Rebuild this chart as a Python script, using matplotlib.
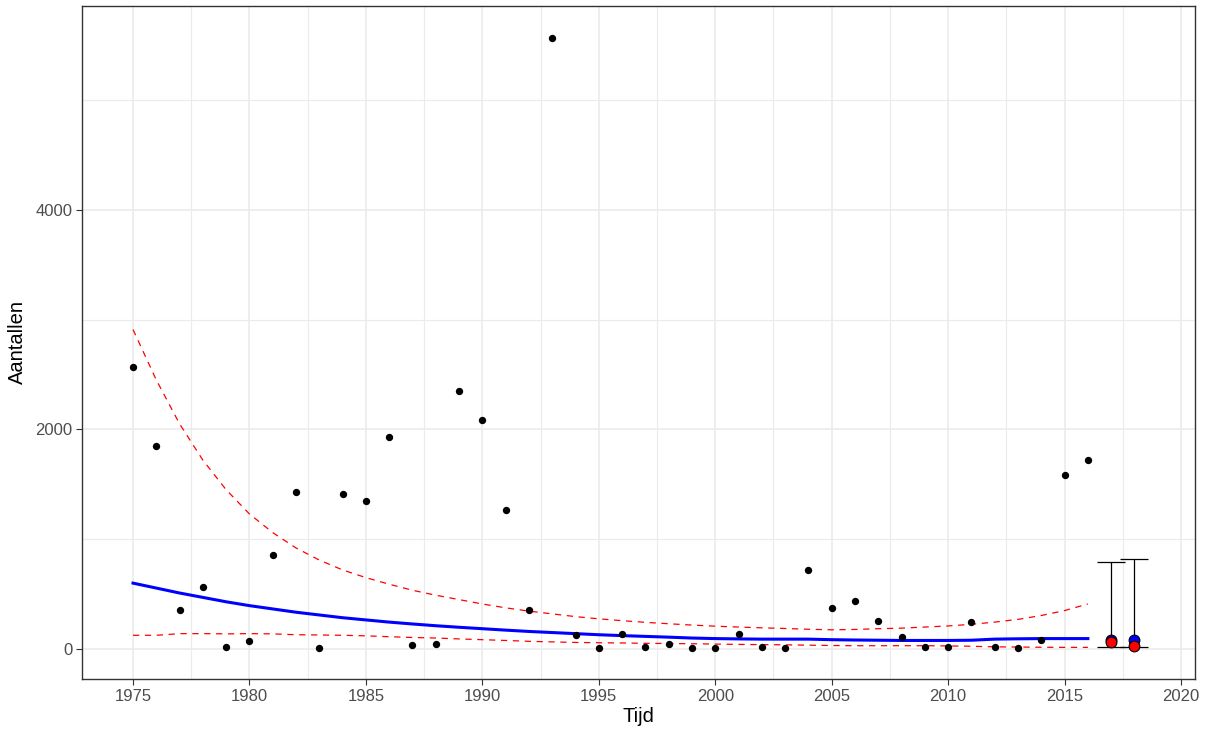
import matplotlib
matplotlib.use("Agg")
import matplotlib.pyplot as plt
import numpy as np
from matplotlib.ticker import MultipleLocator

plt.rcParams['font.family'] = ['Liberation Sans', 'DejaVu Sans']

years = list(range(1975, 2017))
counts = [2564, 1845, 355, 564, 18, 73, 855, 1427, 9, 1409,
          1345, 1927, 36, 45, 2345, 2082, 1264, 355, 5564, 127,
          9, 136, 18, 45, 9, 9, 136, 18, 9, 718,
          373, 436, 255, 109, 18, 18, 245, 18, 9, 82,
          1582, 1718]
trend = [600, 555, 510, 470, 430, 395, 365, 335, 310, 285,
         265, 245, 228, 212, 198, 185, 172, 160, 150, 140,
         130, 122, 115, 108, 100, 95, 92, 90, 90, 90,
         85, 82, 80, 78, 78, 78, 80, 90, 93, 95,
         95, 95]
upper = [2909, 2450, 2050, 1720, 1450, 1230, 1060, 920, 810, 720,
         650, 590, 535, 490, 450, 410, 375, 345, 320, 295,
         275, 258, 243, 230, 218, 208, 200, 193, 187, 180,
         175, 178, 185, 190, 200, 210, 225, 245, 270, 305,
         350, 410]
lower = [125, 125, 140, 140, 138, 140, 138, 130, 128, 125,
         120, 112, 105, 100, 92, 85, 78, 70, 65, 60,
         57, 55, 52, 50, 48, 45, 42, 40, 38, 35,
         32, 30, 30, 30, 30, 28, 25, 20, 18, 16,
         15, 15]

pred_years = [2017, 2018]
pred_blue = [82, 82]
pred_red = [61, 24]
pred_low = [21, 21]
pred_high = [788, 824]

fig = plt.figure(figsize=(12.06, 7.33), dpi=100)
ax = fig.add_axes([82/1206, 1-679/733, (1195-82)/1206, (679-6)/733])

ax.set_xlim(1972.81, 2020.6)
ax.set_ylim(-273, 5855)

ax.xaxis.set_major_locator(MultipleLocator(5))
ax.xaxis.set_minor_locator(MultipleLocator(2.5))
ax.yaxis.set_major_locator(MultipleLocator(2000))
ax.yaxis.set_minor_locator(MultipleLocator(1000))
ax.grid(which='major', color='#EBEBEB', linewidth=1.2)
ax.grid(which='minor', color='#EBEBEB', linewidth=0.8)
ax.set_axisbelow(True)
ax.tick_params(which='minor', length=0)
ax.tick_params(which='major', length=4, width=0.8, color='#333333',
               labelcolor='#4D4D4D', labelsize=12, pad=3)
for s in ax.spines.values():
    s.set_color('#333333')
    s.set_linewidth(1.0)

ax.plot(years, upper, color='red', linestyle=(0, (5, 4.5)), linewidth=0.9, zorder=2)
ax.plot(years, lower, color='red', linestyle=(0, (5, 4.5)), linewidth=0.9, zorder=2)
ax.plot(years, trend, color='blue', linewidth=2.2, zorder=3)
ax.scatter(years, counts, s=28, color='black', zorder=4, linewidths=0)

ax.errorbar(pred_years, pred_blue,
            yerr=[np.array(pred_blue) - np.array(pred_low), np.array(pred_high) - np.array(pred_blue)],
            fmt='none', ecolor='black', elinewidth=0.9, capsize=10, capthick=0.9, zorder=4)
ax.scatter(pred_years, pred_blue, s=60, color='blue', edgecolors='black', linewidths=0.8, zorder=5)
ax.scatter(pred_years, pred_red, s=60, color='red', edgecolors='black', linewidths=0.8, zorder=6)

ax.set_xlabel('Tijd', fontsize=14.5, color='black', labelpad=2)
ax.set_ylabel('Aantallen', fontsize=14.5, color='black', labelpad=6)

fig.savefig('out.png', dpi=100)
